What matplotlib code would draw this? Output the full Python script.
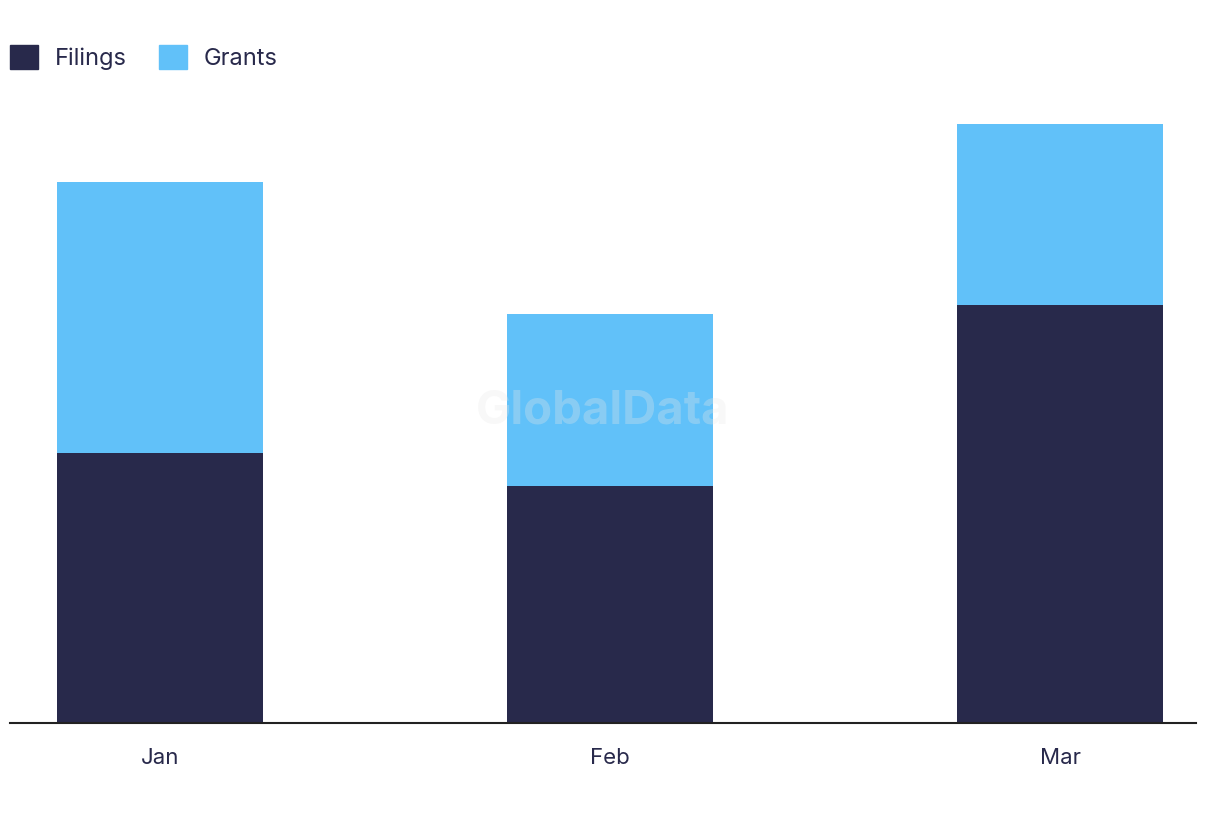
import matplotlib.pyplot as plt
from matplotlib.patches import Patch

months = ['Jan', 'Feb', 'Mar']
filings = [30, 26.3, 46.4]
grants = [30.1, 19.1, 20.1]

FILINGS_COLOR = '#28294b'
GRANTS_COLOR = '#61c1f9'
TEXT_COLOR = '#28294b'

plt.rcParams['font.family'] = ['Inter', 'DejaVu Sans']

fig = plt.figure(figsize=(12.2, 8.22), dpi=100)
ax = fig.add_axes([10 / 1220, 99 / 822, 1186 / 1220, 623 / 822])

x = range(len(months))
ax.bar(x, filings, width=0.458, color=FILINGS_COLOR)
ax.bar(x, grants, width=0.458, bottom=filings, color=GRANTS_COLOR)

ax.set_xlim(-0.333, 2.302)
ax.set_ylim(0, 623 / 9)
ax.set_xticks(list(x))
ax.set_xticklabels(months, fontsize=16, color=TEXT_COLOR)
ax.tick_params(axis='x', length=0, pad=18)
ax.set_yticks([])
for side in ['top', 'right', 'left']:
    ax.spines[side].set_visible(False)
ax.spines['bottom'].set_color('#222222')
ax.spines['bottom'].set_linewidth(1.5)

# watermark
ax.text(0.5, 0.5, 'GlobalData', transform=ax.transAxes, ha='center', va='center',
        fontsize=34, fontweight='bold', color='#e8e8e8', alpha=0.3)

handles = [Patch(color=FILINGS_COLOR, label='Filings'), Patch(color=GRANTS_COLOR, label='Grants')]
fig.legend(handles=handles, loc='upper left', bbox_to_anchor=(10 / 1220, 1 - 45 / 822), ncol=2,
           frameon=False, borderpad=0, borderaxespad=0, fontsize=17, labelcolor=TEXT_COLOR,
           handlelength=1.19, handleheight=1.19, columnspacing=1.35, handletextpad=0.72)

fig.savefig('out.png', dpi=100)
